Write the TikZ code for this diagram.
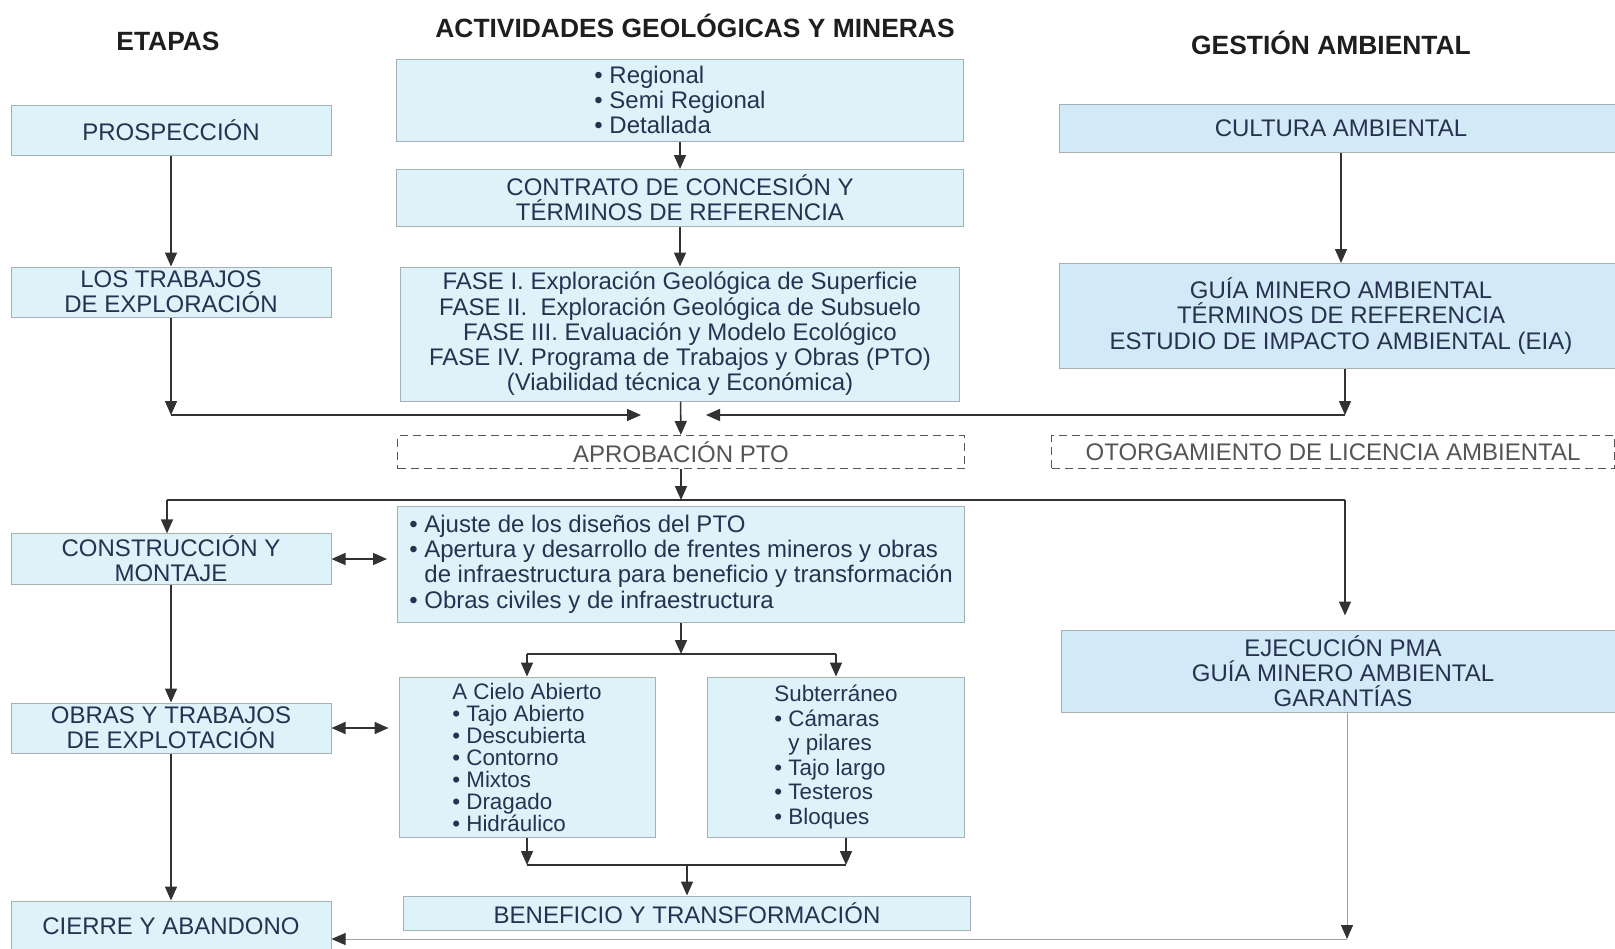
\documentclass[tikz,border=0pt]{standalone}
\usepackage{fontspec}
\setmainfont{Liberation Sans}
\usepackage{tikz}
\usetikzlibrary{arrows.meta}
\usetikzlibrary{positioning}
\definecolor{txt}{RGB}{38,50,80}
\definecolor{ttl}{RGB}{30,30,30}
\definecolor{boxfill}{RGB}{222,242,250}
\definecolor{envfill}{RGB}{210,234,247}
\definecolor{boxline}{RGB}{165,175,182}
\definecolor{linkc}{RGB}{50,50,50}
\definecolor{dashc}{RGB}{85,85,85}
\definecolor{faint}{RGB}{160,160,160}
\tikzset{
  title/.style={text=ttl, font=\fontsize{13.2}{14}\selectfont\bfseries},
  box/.style={draw=boxline, line width=0.5pt, text=txt, align=center, inner sep=1pt,
    font=\fontsize{12}{12.6}\selectfont},
  stage/.style={box, fill=boxfill, minimum width=160pt, minimum height=25pt},
  act/.style={box, fill=boxfill, minimum width=283.5pt},
  env/.style={box, fill=envfill, minimum width=282pt},
  dbox/.style={box, draw=dashc, fill=white, text=dashc, dash pattern=on 4pt off 2.5pt,
    minimum width=283.5pt, minimum height=16.5pt},
  link/.style={color=linkc, line width=0.8pt},
  faintlink/.style={color=faint, line width=0.5pt}
}

\begin{document}
\begin{tikzpicture}[x=0.5pt,y=-0.5pt,>={Triangle[length=7pt,width=6pt]}]
		\useasboundingbox (0,0) rectangle (1615,948);
		\clip (0,0) rectangle (1615,948);
		% column titles
		\node[title] (tEtapas) at (168,41) {ETAPAS};
		\node[title] (tActiv) at (695,26) {ACTIVIDADES GEOLÓGICAS Y MINERAS};
		\node[title] (tGestion) at (1331,43) {GESTIÓN AMBIENTAL};
		% stages
		\node[stage] (prosp) at (171,130) {PROSPECCIÓN};
		\node[stage] (explo) at (171,292) {LOS TRABAJOS\\DE EXPLORACIÓN};
		\node[stage] (constr) at (171,559) {CONSTRUCCIÓN Y\\MONTAJE};
		\node[stage] (explot) at (171,728) {OBRAS Y TRABAJOS\\DE EXPLOTACIÓN};
		\node[stage] (cierre) at (171,926) {CIERRE Y ABANDONO};
		% activities
		\node[act, minimum height=41pt, align=left] (escala) at (680,100) {\textbullet\ Regional\\\textbullet\ Semi Regional\\\textbullet\ Detallada};
		\node[act, minimum height=28.5pt] (contrato) at (680,198) {CONTRATO DE CONCESIÓN Y\\TÉRMINOS DE REFERENCIA};
		\node[act, minimum width=279.5pt, minimum height=67pt] (fases) at (680,334) {FASE I. Exploración Geológica de Superficie\\FASE II. \ Exploración Geológica de Subsuelo\\FASE III. Evaluación y Modelo Ecológico\\FASE IV. Programa de Trabajos y Obras (PTO)\\(Viabilidad técnica y Económica)};
		\node[dbox] (aprob) at (681,452) {APROBACIÓN PTO};
		\node[act, minimum height=58pt, align=left] (ajuste) at (681,564) {\textbullet\ Ajuste de los diseños del PTO\\\textbullet\ Apertura y desarrollo de frentes mineros y obras\\\hphantom{\textbullet\ }de infraestructura para beneficio y transformación\\\textbullet\ Obras civiles y de infraestructura};
		\node[act, minimum width=128pt, minimum height=80pt, align=left, font=\fontsize{11.2}{11}\selectfont] (cielo) at (527,757) {A Cielo Abierto\\\textbullet\ Tajo Abierto\\\textbullet\ Descubierta\\\textbullet\ Contorno\\\textbullet\ Mixtos\\\textbullet\ Dragado\\\textbullet\ Hidráulico};
		\node[act, minimum width=128.5pt, minimum height=80pt, align=left, font=\fontsize{11.2}{12.3}\selectfont] (subte) at (836,757) {Subterráneo\\\textbullet\ Cámaras\\\hphantom{\textbullet\ }y pilares\\\textbullet\ Tajo largo\\\textbullet\ Testeros\\\textbullet\ Bloques};
		\node[act, minimum height=17pt] (benef) at (687,913) {BENEFICIO Y TRANSFORMACIÓN};
		% environmental management
		\node[env, minimum height=24pt] (cultura) at (1341,128) {CULTURA AMBIENTAL};
		\node[env, minimum height=52.5pt] (guia) at (1341,316) {GUÍA MINERO AMBIENTAL\\TÉRMINOS DE REFERENCIA\\ESTUDIO DE IMPACTO AMBIENTAL (EIA)};
		\node[dbox, minimum width=281.5pt] (licencia) at (1333,452) {OTORGAMIENTO DE LICENCIA AMBIENTAL};
		\node[env, minimum height=41pt] (pma) at (1343,671) {EJECUCIÓN PMA\\GUÍA MINERO AMBIENTAL\\GARANTÍAS};
		% junction points
		\coordinate (jL) at (171,415);
		\coordinate (jR) at (1345,415);
		\coordinate (inL) at (641,415);
		\coordinate (inR) at (706,415);
		\coordinate (sL) at (167,500);
		\coordinate (sR) at (1345,500);
		\coordinate (mA) at (527,654);
		\coordinate (mB) at (836,654);
		\coordinate (nA) at (527,865);
		\coordinate (nB) at (846,865);
		\coordinate (nM) at (687,865);
		\coordinate (bR) at (1347,939);
		% connectors
		\path [link,->] (prosp) edge (explo);
		\path [link,->] (explo) edge (jL);
		\path [link,->] (jL) edge (inL);
		\path [link,->] (escala) edge (contrato);
		\path [link,->] (contrato) edge (fases);
		\path [link,->] (fases) edge (aprob);
		\path [link,->] (cultura) edge (guia);
		\path [link,->] (guia.south -| jR) edge (jR);
		\path [link,->] (jR) edge (inR);
		\path [link,->] (aprob) edge (aprob |- sL);
		\path [link] (sL) edge (sR);
		\path [link,->] (sL) edge (sL |- constr.north);
		\path [link,->,shorten >=7pt] (sR) edge (sR |- pma.north);
		\path [link,<->,shorten >=5pt] (constr.east) edge (constr.east -| ajuste.west);
		\path [link,<->,shorten >=5pt] (explot.east) edge (explot.east -| cielo.west);
		\path [link,->] (constr) edge (explot);
		\path [link,->] (explot) edge (cierre);
		\path [link,->] (ajuste) edge (ajuste |- mA);
		\path [link] (mA) edge (mB);
		\path [link,->] (mA) edge (cielo);
		\path [link,->] (mB) edge (subte);
		\path [link,->] (cielo) edge (nA);
		\path [link,->] (subte.south -| nB) edge (nB);
		\path [link] (nA) edge (nB);
		\path [link,->] (nM) edge (benef);
		\path [faintlink,-{Triangle[length=7pt,width=6pt,color=linkc]}] (pma.south -| bR) edge (bR);
		\path [faintlink,-{Triangle[length=7pt,width=6pt,color=linkc]}] (bR) edge (bR -| cierre.east);
	\end{tikzpicture}
\end{document}
